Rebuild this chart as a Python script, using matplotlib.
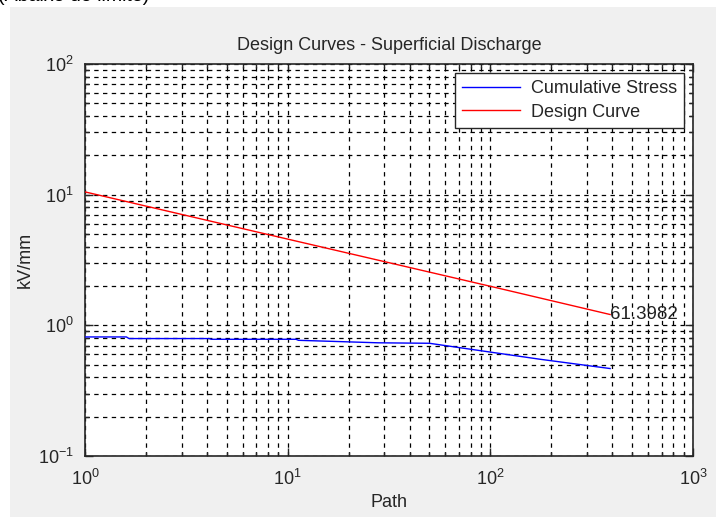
import matplotlib
matplotlib.use("Agg")
import matplotlib.pyplot as plt
from matplotlib.patches import Rectangle
from matplotlib.ticker import LogLocator

plt.rcParams['font.family'] = ['Liberation Sans', 'DejaVu Sans']
plt.rcParams['mathtext.default'] = 'regular'

# Cumulative stress along the discharge path
stress_path = [1, 1.6, 1.65, 4.1, 4.2, 11, 11.3, 18, 28, 50, 80, 176, 390]
stress_kv = [0.815, 0.815, 0.792, 0.792, 0.782, 0.782, 0.768, 0.751, 0.735,
             0.729, 0.656, 0.55, 0.467]

# Design curve (straight line in log-log)
design_path = [1, 10, 100, 390]
design_kv = [10.5, 4.57, 1.99, 1.21]
design_label = "61.3982"

title = "Design Curves - Superficial Discharge"
xlabel = "Path"
ylabel = "kV/mm"
legend_labels = ["Cumulative Stress", "Design Curve"]
caption = "(Abaixo do limite)"

W, H = 716, 517
fig = plt.figure(figsize=(W / 100, H / 100), dpi=100, facecolor='white')

# grey panel behind the axes
fig.patches.append(Rectangle((10 / W, 0), 1 - 10 / W, 1 - 7 / H,
                             transform=fig.transFigure, facecolor='#f0f0f0',
                             edgecolor='none', zorder=-10))
fig.text(-2 / W, 1 - 1 / H, caption, fontsize=14, color='black',
         ha='left', va='baseline')

ax = fig.add_axes([85 / W, 61 / H, 608 / W, 392 / H])
ax.set_zorder(1)
ax.set_facecolor('white')
ax.set_xscale('log')
ax.set_yscale('log')
ax.set_xlim(1, 1000)
ax.set_ylim(0.1, 100)

ax.plot(stress_path, stress_kv, color='blue', lw=1.0, label=legend_labels[0], zorder=3)
ax.plot(design_path, design_kv, color='red', lw=1.0, label=legend_labels[1], zorder=3)
ax.text(design_path[-1], design_kv[-1], design_label, fontsize=13.5,
        color='#222222', ha='left', va='center', zorder=4)

ax.xaxis.set_major_locator(LogLocator(base=10, numticks=10))
ax.yaxis.set_major_locator(LogLocator(base=10, numticks=10))
ax.xaxis.set_minor_locator(LogLocator(base=10, subs=range(2, 10), numticks=20))
ax.yaxis.set_minor_locator(LogLocator(base=10, subs=range(2, 10), numticks=20))

ax.grid(True, which='both', color='black', linestyle=(0, (3.5, 3.5)), lw=0.9)
ax.set_axisbelow(True)
ax.tick_params(which='both', direction='in', top=True, right=True,
               color='#262626', labelsize=13, labelcolor='#262626')
ax.tick_params(which='major', length=6, width=1)
ax.tick_params(which='minor', length=3, width=1)
ax.tick_params(axis='x', pad=9)
ax.tick_params(axis='y', pad=8)
for s in ax.spines.values():
    s.set_color('#262626')
    s.set_linewidth(1.2)

ax.set_title(title, fontsize=13, color='#262626', pad=10)
ax.set_xlabel(xlabel, fontsize=13, color='#262626', labelpad=4)
ax.set_ylabel(ylabel, fontsize=13, color='#262626', labelpad=3)

leg = ax.legend(loc='upper right', fontsize=13, frameon=True, fancybox=False,
                edgecolor='#262626', framealpha=1, handlelength=3.2,
                handletextpad=0.6, borderaxespad=0.5, labelspacing=0.35,
                borderpad=0.4)
leg.get_frame().set_linewidth(1.0)
for t in leg.get_texts():
    t.set_color('#262626')

fig.savefig('out.png', dpi=100, facecolor=fig.get_facecolor())
